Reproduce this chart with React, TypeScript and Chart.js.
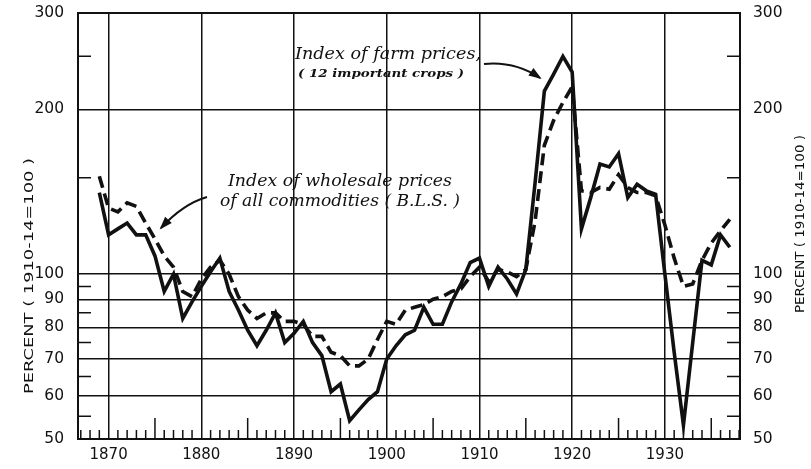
import React, { useEffect, useRef } from "react";
import { Chart, registerables } from "chart.js";

Chart.register(...registerables);

const years: number[] = [
  1869, 1870, 1871, 1872, 1873, 1874, 1875, 1876, 1877, 1878, 1879,
  1880, 1881, 1882, 1883, 1884, 1885, 1886, 1887, 1888, 1889,
  1890, 1891, 1892, 1893, 1894, 1895, 1896, 1897, 1898, 1899,
  1900, 1901, 1902, 1903, 1904, 1905, 1906, 1907, 1908, 1909,
  1910, 1911, 1912, 1913, 1914, 1915, 1916, 1917, 1918, 1919,
  1920, 1921, 1922, 1923, 1924, 1925, 1926, 1927, 1928, 1929,
  1930, 1931, 1932, 1933, 1934, 1935, 1936, 1937,
];

// Index of farm prices (12 important crops), solid line
const farmPrices: number[] = [
  141, 118, 121, 124, 118, 118, 108, 93, 100, 83, 89,
  95, 101, 107, 93, 86, 79, 74, 79, 85, 75,
  78, 82, 75, 71, 61, 63, 54, 56.5, 59, 61,
  70, 74, 77.5, 79, 87, 81, 81, 89, 96, 105,
  107, 95, 103, 98, 92, 102, 147, 216, 232, 250,
  234, 121, 138, 159, 157, 166, 138, 146, 142, 140,
  100, 72, 53, 75, 106, 104, 118, 112,
];

// Index of wholesale prices of all commodities (B.L.S.), dashed line
const wholesalePrices: number[] = [
  151, 132, 130, 135, 133, 124, 116, 108, 103, 93, 91,
  98, 103, 106, 100, 91, 86, 83, 85, 85, 82,
  82, 81, 77, 77, 72, 71, 68, 68, 70, 76,
  82, 81, 86, 87, 88, 90, 91, 93, 94, 99,
  103, 97, 102, 101, 99, 102, 125, 172, 191, 206,
  220, 142, 141, 144, 143, 152, 144, 141, 141, 139,
  123, 107, 95, 96, 106, 114, 120, 126,
];

const decadeTicks: number[] = [1870, 1880, 1890, 1900, 1910, 1920, 1930];
const percentLabels: number[] = [300, 200, 100, 90, 80, 70, 60, 50];
const percentGrid: number[] = [60, 70, 80, 90, 100, 200];
const percentMinor: number[] = [55, 65, 75, 85, 95, 150, 250];

const X_MIN = 1866.7;
const X_MAX = 1938.1;
const Y_MIN = 50;
const Y_MAX = 300;

const axisTitle = "PERCENT ( 1910-14=100 )";
const farmLabel1 = "Index of farm prices,";
const farmLabel2 = "( 12 important crops )";
const wholesaleLabel1 = "Index of wholesale prices";
const wholesaleLabel2 = "of all commodities ( B.L.S. )";

const INK = "#111111";

function fitText(
  ctx: CanvasRenderingContext2D,
  text: string,
  x: number,
  y: number,
  width: number,
  font: string
) {
  ctx.save();
  ctx.font = font;
  const w = ctx.measureText(text).width;
  const s = width / w;
  ctx.translate(x, y);
  ctx.scale(s, 1);
  ctx.textAlign = "left";
  ctx.fillText(text, 0, 0);
  ctx.restore();
}

function arrow(
  ctx: CanvasRenderingContext2D,
  x0: number,
  y0: number,
  cx: number,
  cy: number,
  x1: number,
  y1: number
) {
  ctx.save();
  ctx.strokeStyle = INK;
  ctx.fillStyle = INK;
  ctx.lineWidth = 2;
  ctx.beginPath();
  ctx.moveTo(x0, y0);
  ctx.quadraticCurveTo(cx, cy, x1, y1);
  ctx.stroke();
  const ang = Math.atan2(y1 - cy, x1 - cx);
  const len = 11;
  const half = 4.5;
  ctx.beginPath();
  ctx.moveTo(x1 + Math.cos(ang) * 2, y1 + Math.sin(ang) * 2);
  ctx.lineTo(
    x1 - Math.cos(ang) * len + Math.sin(ang) * half,
    y1 - Math.sin(ang) * len - Math.cos(ang) * half
  );
  ctx.lineTo(
    x1 - Math.cos(ang) * len - Math.sin(ang) * half,
    y1 - Math.sin(ang) * len + Math.cos(ang) * half
  );
  ctx.closePath();
  ctx.fill();
  ctx.restore();
}

const decorPlugin = {
  id: "decor",
  afterDatasetsDraw(chart: any) {
    const ctx: CanvasRenderingContext2D = chart.ctx;
    const { left, right, top, bottom } = chart.chartArea;
    const xs = chart.scales.x;
    const ys = chart.scales.y;
    ctx.save();

    // frame
    ctx.strokeStyle = INK;
    ctx.lineWidth = 2;
    ctx.strokeRect(left, top, right - left, bottom - top);

    // minor y ticks on both sides
    ctx.lineWidth = 1.5;
    for (const v of percentMinor) {
      const py = ys.getPixelForValue(v);
      ctx.beginPath();
      ctx.moveTo(left, py);
      ctx.lineTo(left + 13, py);
      ctx.moveTo(right, py);
      ctx.lineTo(right - 13, py);
      ctx.stroke();
    }

    // yearly x ticks
    for (let yr = Math.ceil(X_MIN); yr <= Math.floor(X_MAX); yr++) {
      if (yr % 10 === 0) continue;
      const px = xs.getPixelForValue(yr);
      const h = yr % 5 === 0 ? 21 : 9;
      ctx.beginPath();
      ctx.moveTo(px, bottom);
      ctx.lineTo(px, bottom - h);
      ctx.stroke();
    }

    // tick labels
    ctx.fillStyle = INK;
    ctx.font = '15px "DejaVu Sans"';
    ctx.textBaseline = "middle";
    ctx.textAlign = "center";
    for (const d of decadeTicks) {
      ctx.fillText(String(d), xs.getPixelForValue(d), bottom + 16);
    }
    ctx.font = '15.5px "DejaVu Sans"';
    for (const v of percentLabels) {
      const py = ys.getPixelForValue(v);
      ctx.textAlign = "right";
      ctx.fillText(String(v), left - 14, py);
      ctx.textAlign = "left";
      ctx.fillText(String(v), right + 13, py);
    }

    // axis titles
    ctx.textBaseline = "middle";
    ctx.save();
    ctx.translate(30, 276);
    ctx.rotate(-Math.PI / 2);
    fitText(ctx, axisTitle, -118, 0, 236, '13px "DejaVu Sans"');
    ctx.restore();
    ctx.save();
    ctx.translate(801, 224);
    ctx.rotate(-Math.PI / 2);
    fitText(ctx, axisTitle, -89, 0, 178, '12px "DejaVu Sans"');
    ctx.restore();

    // annotations
    ctx.textBaseline = "alphabetic";
    const serif = 'italic 17px "DejaVu Serif"';
    fitText(ctx, farmLabel1, 295, 59, 186, serif);
    fitText(ctx, farmLabel2, 298, 77, 166, 'italic bold 10.5px "DejaVu Serif"');
    fitText(ctx, wholesaleLabel1, 228, 186, 224, serif);
    fitText(ctx, wholesaleLabel2, 220, 206, 240, serif);

    arrow(ctx, 484, 64, 515, 61, 540, 78);
    arrow(ctx, 207, 197, 183, 204, 161, 228);

    ctx.restore();
  },
};

export default function App() {
  const canvasRef = useRef<HTMLCanvasElement | null>(null);

  useEffect(() => {
    document.body.style.margin = "0";
    const canvas = canvasRef.current;
    if (!canvas) return;
    const chart = new Chart(canvas, {
      type: "line",
      data: {
        datasets: [
          {
            label: "Index of wholesale prices of all commodities (B.L.S.)",
            data: years.map((yr, i) => ({ x: yr, y: wholesalePrices[i] })),
            borderColor: INK,
            borderWidth: 3.6,
            borderDash: [12, 6],
            pointRadius: 0,
            tension: 0,
            fill: false,
            borderJoinStyle: "miter",
          },
          {
            label: "Index of farm prices (12 important crops)",
            data: years.map((yr, i) => ({ x: yr, y: farmPrices[i] })),
            borderColor: INK,
            borderWidth: 3.6,
            pointRadius: 0,
            tension: 0,
            fill: false,
            borderJoinStyle: "miter",
          },
        ],
      },
      options: {
        animation: false,
        responsive: false,
        maintainAspectRatio: false,
        layout: { padding: { left: 78, right: 71, top: 13, bottom: 30 } },
        plugins: {
          legend: { display: false },
          tooltip: { enabled: false },
        },
        scales: {
          x: {
            type: "linear",
            min: X_MIN,
            max: X_MAX,
            afterBuildTicks: (scale: any) => {
              scale.ticks = decadeTicks.map((v) => ({ value: v }));
            },
            ticks: { display: false },
            grid: { color: INK, lineWidth: 1.5, drawTicks: false },
            border: { display: false },
          },
          y: {
            type: "logarithmic",
            min: Y_MIN,
            max: Y_MAX,
            afterBuildTicks: (scale: any) => {
              scale.ticks = percentGrid.map((v) => ({ value: v }));
            },
            ticks: { display: false },
            grid: { color: INK, lineWidth: 1.5, drawTicks: false },
            border: { display: false },
          },
        },
      },
      plugins: [decorPlugin],
    });
    return () => chart.destroy();
  }, []);

  return (
    <div style={{ width: 811, height: 469, background: "#fff" }}>
      <canvas ref={canvasRef} width={811} height={469} style={{ display: "block" }} />
    </div>
  );
}
